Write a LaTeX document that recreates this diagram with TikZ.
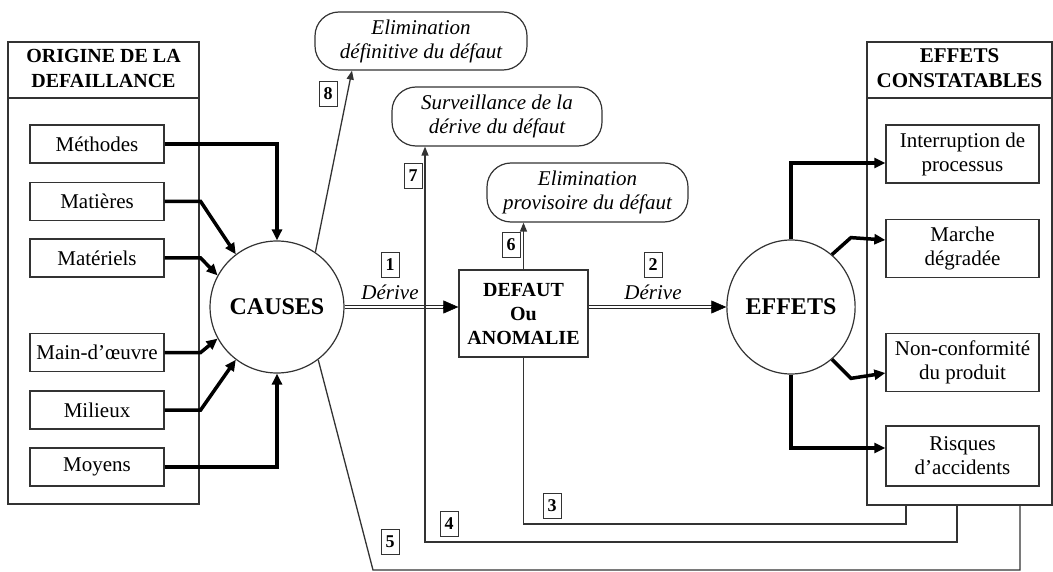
\documentclass[tikz,border=0pt]{standalone}
\usepackage{fontspec}
\setmainfont{Liberation Serif}
\usetikzlibrary{shapes.geometric,arrows.meta}

\tikzset{
	frame/.style={draw=black!80, line width=1.3pt, inner sep=0pt},
	title/.style={align=center, inner sep=0pt, font=\fontsize{20}{25}\selectfont\bfseries},
	item/.style={draw=black!80, line width=1.3pt, minimum width=134, minimum height=38, align=center, inner sep=0pt, font=\fontsize{21}{24}\selectfont},
	effet/.style={item, minimum width=153, minimum height=58},
	blob/.style={ellipse, draw=black!80, line width=1.2pt, inner sep=0pt, font=\fontsize{24}{26}\selectfont\bfseries},
	action/.style={draw=black!80, line width=1.2pt, rounded corners=24pt, align=center, inner sep=0pt, font=\fontsize{21}{24}\selectfont\itshape},
	numbox/.style={draw=black!80, line width=1pt, minimum width=18, minimum height=25, inner sep=0pt, font=\fontsize{18}{18}\selectfont\bfseries},
	lbl/.style={inner sep=0pt, font=\fontsize{21}{24}\selectfont\itshape},
	fat/.style={line width=3.5pt, -{Triangle[length=11pt,width=10pt]}},
	thin/.style={draw=black!80, line width=1.3pt},
	thinarrow/.style={thin, -{Triangle[length=9pt,width=7pt]}},
	dline/.style={draw=black!85, double, line width=1.3pt, double distance=2.2pt, shorten >=12pt},
	dtip/.style={line width=0.5pt, -{Triangle[length=15pt,width=13pt]}}
}

\begin{document}
\begin{tikzpicture}[x=1pt,y=-1pt]

	\useasboundingbox (0,0) rectangle (1053,572);

	% origine de la defaillance
	\node [frame, minimum width=191, minimum height=462] (origine) at (103.5,273) {};
	\draw [frame] (origine.west |- 0,98) -- (origine.east |- 0,98);
	\node [title] (origT) at (103.5,68) {ORIGINE DE LA\\DEFAILLANCE};
	\node [item] (methodes) at (97,144) {Méthodes};
	\node [item] (matieres) at (97,201.5) {Matières};
	\node [item] (materiels) at (97,258) {Matériels};
	\node [item] (mainoeuvre) at (97,352.5) {Main-d'œuvre};
	\node [item] (milieux) at (97,410) {Milieux};
	\node [item] (moyens) at (97,467) {Moyens};

	\node [blob, minimum width=118, minimum height=132] (causes) at (277,307) {CAUSES};

	\draw [fat] (methodes.east) -| (causes.north);
	\draw [fat] (matieres.east) -- ++(36,0) -- (causes.128);
	\draw [fat] (materiels.east) -- ++(36,0) -- (causes.152);
	\draw [fat] (mainoeuvre.east) -- ++(36,0) -- (causes.-152);
	\draw [fat] (milieux.east) -- ++(36,0) -- (causes.-128);
	\draw [fat] (moyens.east) -| (causes.south);

	% defaut
	\node [frame, minimum width=129, minimum height=87, align=center, font=\fontsize{20}{24}\selectfont\bfseries] (defaut) at (523.5,313.5) {DEFAUT\\Ou\\ANOMALIE};
	\node [blob, minimum width=113, minimum height=134] (effets) at (791,307) {EFFETS};

	\draw [dline] (causes.east) -- (causes.east -| defaut.west);
	\draw [dtip] ([xshift=-15pt]causes.east -| defaut.west) -- (causes.east -| defaut.west);
	\node [numbox] (n1) at (390,265) {1};
	\node [lbl] (d1) at (390,292) {Dérive};
	\draw [dline] (defaut.east |- causes.east) -- (effets.west);
	\draw [dtip] ([xshift=-15pt]effets.west) -- (effets.west);
	\node [numbox] (n2) at (653,265) {2};
	\node [lbl] (d2) at (653,292) {Dérive};

	% actions
	\node [action, minimum width=212, minimum height=58] (elimdef) at (421,41) {Elimination\\définitive du défaut};
	\node [action, minimum width=210, minimum height=59] (surv) at (497,116.5) {Surveillance de la\\dérive du défaut};
	\node [action, minimum width=201, minimum height=59] (elimprov) at (587.5,192.5) {Elimination\\provisoire du défaut};

	\draw [thinarrow] (causes.55) -- ([xshift=-69pt]elimdef.south);
	\node [numbox] (n8) at (328,94) {8};
	\draw [thinarrow] (defaut.north) -- (elimprov.south -| defaut.north);
	\node [numbox] (n6) at (511,245) {6};

	% effets constatables
	\node [frame, minimum width=185, minimum height=463] (constat) at (959.5,273.5) {};
	\draw [frame] (constat.west |- 0,98) -- (constat.east |- 0,98);
	\node [title, font=\fontsize{21}{25}\selectfont\bfseries] (constT) at (959.5,68) {EFFETS\\CONSTATABLES};
	\node [effet] (interr) at (962.5,154) {Interruption de\\processus};
	\node [effet] (marche) at (962.5,248.5) {Marche\\dégradée};
	\node [effet] (nonconf) at (962.5,362.5) {Non-conformité\\du produit};
	\node [effet, minimum height=60] (risques) at (962.5,456) {Risques\\d'accidents};

	\draw [fat] (effets.north) |- ([yshift=-9pt]interr.west);
	\draw [fat] (effets.52) -- ++(19,-17) -- ([yshift=8.5pt]marche.west);
	\draw [fat] (effets.-52) -- ++(19,19) -- ([yshift=-10.5pt]nonconf.west);
	\draw [fat] (effets.south) |- ([yshift=8pt]risques.west);

	% retours
	\draw [thin] ([xshift=-53.5pt]constat.south) |- (defaut.south |- 0,524) -- (defaut.south);
	\node [numbox] (n3) at (552,506) {3};
	\draw [thinarrow] ([xshift=-2.5pt]constat.south) |- ([xshift=-72pt]surv.south |- 0,542) -- ([xshift=-72pt]surv.south);
	\node [numbox] (n7) at (413,176) {7};
	\node [numbox] (n4) at (449,524) {4};
	\draw [thin] ([xshift=60.5pt]constat.south) |- (373,570) -- (causes.-52);
	\node [numbox] (n5) at (390,542) {5};

\end{tikzpicture}
\end{document}
